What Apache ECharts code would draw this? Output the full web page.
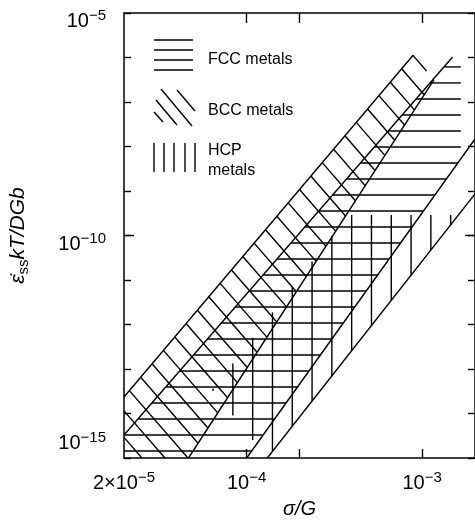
<!DOCTYPE html>
<html><head><meta charset="utf-8">
<script src="https://cdn.jsdelivr.net/npm/echarts@6/dist/echarts.min.js"></script>
<style>html,body{margin:0;padding:0;background:#fff}#c{width:475px;height:524px}</style>
</head><body><div id="c"></div>
<script>
// ---------- data ----------
const xExtent = [2e-5, 2e-3];          // σ/G
const yExtent = [1e-15, 1e-5];         // normalised creep rate
const xTickValues = [1e-4, 2e-4, 1e-3];
const xTickLabels = [[2e-5, '2×10', '−5'], [1e-4, '10', '−4'], [1e-3, '10', '−3']];
const yTickLabels = [[1e-15, '10', '−15'], [1e-10, '10', '−10'], [1e-5, '10', '−5']];

// band boundary lines [σ/G, rate]
const bccUpperLine = [[2e-5, 2.35e-14], [8.90e-4, 1.14e-6]];
const bccLowerLine = [[4.66e-5, 1e-15], [1.166e-3, 3.15e-7]];
const fccUpperLine = [[2e-5, 3.29e-15], [1.49e-3, 1.03e-6]];
const fccLowerLine = [[1.0e-4, 1e-15], [2e-3, 1.48e-8]];
const hcpLowerLine = [[1.31e-4, 1e-15], [2e-3, 8.57e-10]];

// hatched regions [σ/G, rate]
const bccRegion = [[8.90e-4, 1.14e-6], [1.166e-3, 3.15e-7], [4.66e-5, 1e-15], [2e-5, 1e-15], [2e-5, 2.35e-14]];
const fccRegion = [[1.49e-3, 1.03e-6], [1.66e-3, 1.03e-6], [1.66e-3, 5.24e-9], [1.0e-4, 1e-15], [2e-5, 1e-15], [2e-5, 3.29e-15]];
const hcpRegion = [[3.79e-4, 2.89e-10], [1.61e-3, 2.89e-10], [1.31e-4, 1e-15], [6.36e-5, 3.37e-14]];

// ---------- chart ----------
const L = Math.log10;
const FONT = 'Liberation Sans, Arial, Helvetica, sans-serif';
const INK = '#000';
const LW = 1.4;
const chart = echarts.init(document.getElementById('c'));

const rich = {
  b: {fontSize: 20, fontFamily: FONT, color: INK},
  s: {fontSize: 15, fontFamily: FONT, color: INK, padding: [0, 0, 11, 0]}
};
const minLabelRaisePx = 23, plotH = 445;
const yMinLabelShift = minLabelRaisePx * (L(yExtent[1]) - L(yExtent[0])) / plotH;

function labelFor(list, v) {
  let best = null, bd = 1e9;
  list.forEach(t => { const d = Math.abs(L(t[0]) - v); if (d < bd) { bd = d; best = t; } });
  return best ? '{b|' + best[1] + '}{s|' + best[2] + '}' : '';
}

function hatchRenderer(region, angleDeg, spacing, anchor, phase) {
  return function (params, api) {
    if (params.dataIndex !== 0) return;
    const pts = region.map(p => api.coord([L(p[0]), L(p[1])]));
    const a = angleDeg * Math.PI / 180;
    const d = [Math.cos(a), Math.sin(a)], n = [-d[1], d[0]];
    const proj = pts.map(p => p[0] * n[0] + p[1] * n[1]);
    const c0 = proj[anchor] + phase;
    const cmin = Math.min.apply(null, proj), cmax = Math.max.apply(null, proj);
    const kmin = Math.ceil((cmin - c0) / spacing), kmax = Math.floor((cmax - c0) / spacing);
    const children = [];
    for (let k = kmin; k <= kmax; k++) {
      const c = c0 + k * spacing;
      const ss = [];
      for (let i = 0; i < pts.length; i++) {
        const A = pts[i], B = pts[(i + 1) % pts.length];
        const fa = A[0] * n[0] + A[1] * n[1] - c, fb = B[0] * n[0] + B[1] * n[1] - c;
        if (fa * fb <= 0 && fa !== fb) {
          const t = fa / (fa - fb);
          const P = [A[0] + t * (B[0] - A[0]), A[1] + t * (B[1] - A[1])];
          ss.push(P[0] * d[0] + P[1] * d[1]);
        }
      }
      if (ss.length < 2) continue;
      const s1 = Math.min.apply(null, ss), s2 = Math.max.apply(null, ss);
      if (s2 - s1 < 0.5) continue;
      children.push({
        type: 'line',
        shape: {x1: c * n[0] + s1 * d[0], y1: c * n[1] + s1 * d[1], x2: c * n[0] + s2 * d[0], y2: c * n[1] + s2 * d[1]},
        style: {stroke: INK, lineWidth: LW}
      });
    }
    return {type: 'group', children: children};
  };
}

function hatchSeries(region, angle, spacing, anchor, phase) {
  return {
    type: 'custom', silent: true, animation: false,
    data: region.map(p => [L(p[0]), L(p[1])]),
    renderItem: hatchRenderer(region, angle, spacing, anchor, phase)
  };
}
function lineSeries(pts) {
  return {
    type: 'line', silent: true, animation: false, showSymbol: false, symbol: 'none',
    data: pts.map(p => [L(p[0]), L(p[1])]),
    lineStyle: {color: INK, width: LW}
  };
}

const xMin = L(xExtent[0]), xMax = L(xExtent[1]);
const yMin = L(yExtent[0]), yMax = L(yExtent[1]);
const axisLine = {show: true, lineStyle: {color: INK, width: 1.5}};

const baseX = {
  type: 'value', min: xMin, max: xMax, splitLine: {show: false}, axisLine: axisLine
};
const baseY = {
  type: 'value', min: yMin, max: yMax, interval: 1, splitLine: {show: false}, axisLine: axisLine
};

chart.setOption({
  animation: false,
  backgroundColor: '#fff',
  grid: {left: 124, right: -5.6, top: 13, bottom: 66},
  xAxis: [
    Object.assign({}, baseX, {
      position: 'bottom',
      axisTick: {inside: true, length: 9, lineStyle: {color: INK, width: 1.4}, customValues: xTickValues.map(L)},
      axisLabel: {margin: 12, customValues: xTickLabels.map(t => L(t[0])), formatter: v => labelFor(xTickLabels, v), rich: rich},
      name: 'σ/G', nameLocation: 'middle', nameGap: 41,
      nameTextStyle: {fontSize: 20, fontStyle: 'italic', fontFamily: FONT, color: INK}
    }),
    Object.assign({}, baseX, {
      position: 'top',
      axisTick: {inside: true, length: 10, lineStyle: {color: INK, width: 1.4}, customValues: xTickValues.map(L)},
      axisLabel: {show: false}
    })
  ],
  yAxis: [
    Object.assign({}, baseY, {
      position: 'left',
      axisTick: {inside: true, length: 7, lineStyle: {color: INK, width: 1.4}},
      axisLabel: {
        margin: 18, padding: [17, 0, 0, 0],
        customValues: yTickLabels.map(t => L(t[0]) + (t[0] === yExtent[0] ? yMinLabelShift : 0)),
        formatter: v => labelFor(yTickLabels, v), rich: rich
      },
      name: '{i|ε̇}{sub|ss}{i|kT/DGb}', nameLocation: 'middle', nameRotate: 90, nameGap: 93,
      nameTextStyle: {
        rich: {
          i: {fontSize: 21, fontStyle: 'italic', fontFamily: FONT, color: INK},
          sub: {fontSize: 15, fontFamily: FONT, color: INK, padding: [10, 0, 0, 0]}
        }
      }
    }),
    Object.assign({}, baseY, {
      position: 'right',
      axisTick: {inside: true, length: 7, lineStyle: {color: INK, width: 1.4}},
      axisLabel: {show: false}
    }),
    Object.assign({}, baseY, {
      position: 'left', axisLine: {show: false},
      axisTick: {inside: true, length: 10, lineStyle: {color: INK, width: 1.4}, customValues: [-10]},
      axisLabel: {show: false}
    }),
    Object.assign({}, baseY, {
      position: 'right', axisLine: {show: false},
      axisTick: {inside: true, length: 10, lineStyle: {color: INK, width: 1.4}, customValues: [-10]},
      axisLabel: {show: false}
    })
  ],
  series: [
    hatchSeries(bccRegion, 48.99, 17.36, 0, 0.5),
    hatchSeries(fccRegion, 0, 16, 0, 10),
    hatchSeries(hcpRegion, 90, 19.8, 1, 7.8),
    lineSeries(bccUpperLine),
    lineSeries(bccLowerLine),
    lineSeries(fccUpperLine),
    lineSeries(fccLowerLine),
    lineSeries(hcpLowerLine)
  ],
  graphic: [
    // legend: FCC
    ...[40, 50, 60, 70].map(y => ({type: 'line', shape: {x1: 154, y1: y, x2: 193, y2: y}, style: {stroke: INK, lineWidth: LW}})),
    {type: 'text', left: 208, top: 52, style: {text: 'FCC metals', fontSize: 16, fontFamily: FONT, fill: INK}},
    // legend: BCC
    {type: 'line', shape: {x1: 161, y1: 89, x2: 192, y2: 126}, style: {stroke: INK, lineWidth: LW}},
    {type: 'line', shape: {x1: 177, y1: 90, x2: 195, y2: 111}, style: {stroke: INK, lineWidth: LW}},
    {type: 'line', shape: {x1: 156, y1: 100, x2: 177, y2: 125}, style: {stroke: INK, lineWidth: LW}},
    {type: 'line', shape: {x1: 154, y1: 112, x2: 163, y2: 122}, style: {stroke: INK, lineWidth: LW}},
    {type: 'text', left: 208, top: 103, style: {text: 'BCC metals', fontSize: 16, fontFamily: FONT, fill: INK}},
    // legend: HCP
    ...[154, 164, 174, 185, 195].map(x => ({type: 'line', shape: {x1: x, y1: 143, x2: x, y2: 172}, style: {stroke: INK, lineWidth: LW}})),
    {type: 'text', left: 208, top: 141, style: {text: 'HCP\nmetals', fontSize: 16, lineHeight: 20, fontFamily: FONT, fill: INK}}
  ]
});
</script></body></html>
